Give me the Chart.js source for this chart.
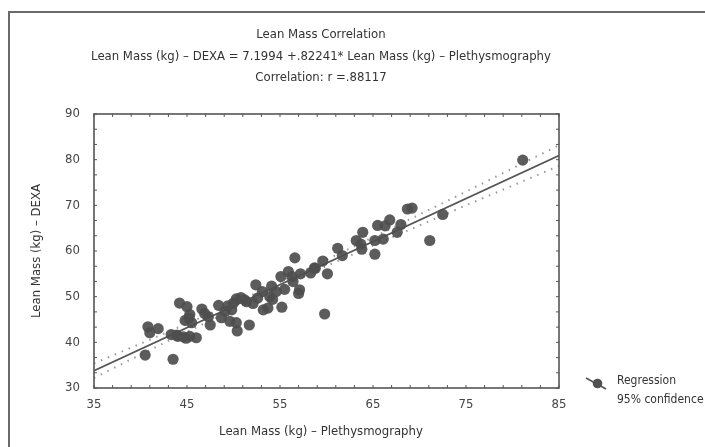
<!DOCTYPE html>
<html>
<head>
<meta charset="utf-8">
<script src="https://cdn.jsdelivr.net/npm/chart.js@4/dist/chart.umd.min.js"></script>
<style>
  html, body { margin: 0; padding: 0; background: #fff; }
  #wrap { position: relative; width: 705px; height: 447px; overflow: hidden; }
  #frame { position: absolute; left: 8px; top: 11px; width: 720px; height: 460px;
           border-left: 2px solid #6a6a6a; border-top: 2px solid #6a6a6a; }
  canvas { position: absolute; left: 0; top: 0; }
</style>
</head>
<body>
<div id="wrap">
  <div id="frame"></div>
  <canvas id="c" width="705" height="447"></canvas>
</div>
<script>
// ---- data ----
const titleLines = [
  "Lean Mass Correlation",
  "Lean Mass (kg) \u2013 DEXA = 7.1994 +.82241* Lean Mass (kg) \u2013 Plethysmography",
  "Correlation: r =.88117"
];
const xTitle = "Lean Mass (kg) \u2013 Plethysmography";
const yTitle = "Lean Mass (kg) \u2013 DEXA";
const legendLabels = ["Regression", "95% confidence"];

const xTicks = [35, 45, 55, 65, 75, 85];
const yTicks = [30, 40, 50, 60, 70, 80, 90];

const plethX = [40.5,43.5,40.8,41.0,41.9,43.3,44.2,45.0,44.0,44.6,45.3,46.0,44.8,45.2,45.5,45.3,
  46.6,46.9,47.3,47.5,48.4,48.7,49.1,49.4,49.6,49.8,50.0,50.3,50.3,50.4,51.2,51.4,51.7,52.1,52.4,
  53.1,53.2,53.7,54.1,54.2,54.6,55.1,55.2,55.5,55.9,56.3,56.4,56.6,57.0,57.1,57.2,58.3,58.7,58.8,
  59.6,59.8,60.1,61.2,61.7,63.2,63.7,63.8,63.9,65.2,65.2,65.5,66.1,66.3,66.8,67.6,68.0,68.7,69.2,
  71.1,72.5,81.1,44.9,43.9,52.6,50.8,53.9];
const dexaY = [37.2,36.3,43.4,42.1,43.0,41.7,48.6,47.8,41.3,41.2,41.3,41.0,44.8,45.3,44.3,46.1,
  47.3,46.3,45.6,43.8,48.1,45.4,46.8,48.0,44.6,47.1,48.6,49.5,44.3,42.5,49.3,48.9,43.8,48.5,52.6,
  51.1,47.1,47.5,52.3,49.4,51.1,54.4,47.7,51.6,55.5,54.4,53.3,58.5,50.7,51.5,55.0,55.2,56.3,56.2,
  57.8,46.2,55.0,60.6,59.0,62.3,61.5,60.4,64.1,62.3,59.3,65.6,62.6,65.5,66.8,64.1,65.8,69.2,69.4,
  62.3,68.0,79.9,40.9,41.6,49.7,49.8,50.0];

const regX = [35, 85];
const regY = [33.8, 80.9];
const bandX = [35, 40, 45, 50, 55, 60, 65, 70, 75, 80, 85];
const bandUpper = [35.4, 39.7, 44.1, 48.6, 53.2, 58.1, 63.0, 68.0, 73.0, 78.1, 83.15];
const bandLower = [32.2, 37.3, 42.3, 47.2, 52.0, 56.7, 61.2, 65.6, 70.0, 74.3, 78.65];

// ---- build ----
const FONT = "'Liberation Sans Narrow', 'DejaVu Sans Condensed', 'Liberation Sans', sans-serif";
const pts = plethX.map((x, i) => ({x: x, y: dexaY[i]}));
const reg = regX.map((x, i) => ({x: x, y: regY[i]}));
const up = bandX.map((x, i) => ({x: x, y: bandUpper[i]}));
const lo = bandX.map((x, i) => ({x: x, y: bandLower[i]}));

const decor = {
  id: 'decor',
  afterDraw(chart) {
    const ctx = chart.ctx, a = chart.chartArea;
    const xs = chart.scales.x, ys = chart.scales.y;
    ctx.save();
    ctx.strokeStyle = '#555';
    ctx.lineWidth = 1.6;
    ctx.strokeRect(a.left, a.top, a.right - a.left, a.bottom - a.top);
    ctx.lineWidth = 1;
    for (let v = 35; v <= 85.001; v += 2) {
      const px = xs.getPixelForValue(v);
      ctx.beginPath();
      ctx.moveTo(px, a.bottom); ctx.lineTo(px, a.bottom - 3);
      ctx.moveTo(px, a.top); ctx.lineTo(px, a.top + 3);
      ctx.stroke();
    }
    for (let v = 30; v <= 90.001; v += 10 / 3) {
      const py = ys.getPixelForValue(v);
      ctx.beginPath();
      ctx.moveTo(a.left, py); ctx.lineTo(a.left + 3, py);
      ctx.moveTo(a.right, py); ctx.lineTo(a.right - 3, py);
      ctx.stroke();
    }
    ctx.fillStyle = '#333';
    ctx.font = '13px ' + FONT;
    ctx.textAlign = 'center';
    ctx.textBaseline = 'middle';
    const tY = [35, 57, 78];
    titleLines.forEach((t, i) => ctx.fillText(t, 321, tY[i]));
    ctx.fillText(xTitle, 321, 432);
    ctx.save();
    ctx.translate(37, 251);
    ctx.rotate(-Math.PI / 2);
    ctx.fillText(yTitle, 0, 0);
    ctx.restore();
    // legend
    ctx.strokeStyle = '#555';
    ctx.lineWidth = 1.6;
    ctx.beginPath();
    ctx.moveTo(586, 378); ctx.lineTo(606, 389);
    ctx.stroke();
    ctx.fillStyle = '#505050';
    ctx.beginPath();
    ctx.arc(597.5, 383.5, 4.8, 0, Math.PI * 2);
    ctx.fill();
    ctx.fillStyle = '#333';
    ctx.font = '12px ' + FONT;
    ctx.textAlign = 'left';
    ctx.fillText(legendLabels[0], 617, 381);
    ctx.fillText(legendLabels[1], 617, 400);
    ctx.restore();
  }
};

new Chart(document.getElementById('c'), {
  type: 'scatter',
  data: {
    datasets: [
      { label: 'Regression', data: reg, type: 'line', showLine: true,
        borderColor: '#555', borderWidth: 1.7, pointRadius: 0, order: 1 },
      { label: 'upper', data: up, type: 'line', showLine: true, cubicInterpolationMode: 'monotone',
        borderColor: '#999', borderWidth: 2, borderDash: [1.5, 6], pointRadius: 0, order: 2 },
      { label: 'lower', data: lo, type: 'line', showLine: true, cubicInterpolationMode: 'monotone',
        borderColor: '#999', borderWidth: 2, borderDash: [1.5, 6], pointRadius: 0, order: 2 },
      { label: 'data', data: pts, pointRadius: 5.6, pointBackgroundColor: 'rgba(78,78,78,0.92)',
        pointBorderWidth: 0, order: 0 }
    ]
  },
  options: {
    responsive: false,
    animation: false,
    events: [],
    layout: { padding: { top: 114, right: 146, bottom: 0, left: 0 } },
    plugins: { legend: { display: false }, tooltip: { enabled: false }, title: { display: false } },
    scales: {
      x: {
        type: 'linear', min: 35, max: 85,
        afterBuildTicks: s => { s.ticks = xTicks.map(v => ({value: v})); },
        afterFit: s => { s.height = 59; },
        grid: { display: false, drawTicks: false },
        border: { display: false },
        ticks: { padding: 9, color: '#444', font: { family: FONT, size: 13 } }
      },
      y: {
        type: 'linear', min: 30, max: 90,
        afterBuildTicks: s => { s.ticks = yTicks.map(v => ({value: v})); },
        afterFit: s => { s.width = 94; },
        grid: { display: false, drawTicks: false },
        border: { display: false },
        ticks: { padding: 14, color: '#444', font: { family: FONT, size: 13 } }
      }
    }
  },
  plugins: [decor]
});
</script>
</body>
</html>
